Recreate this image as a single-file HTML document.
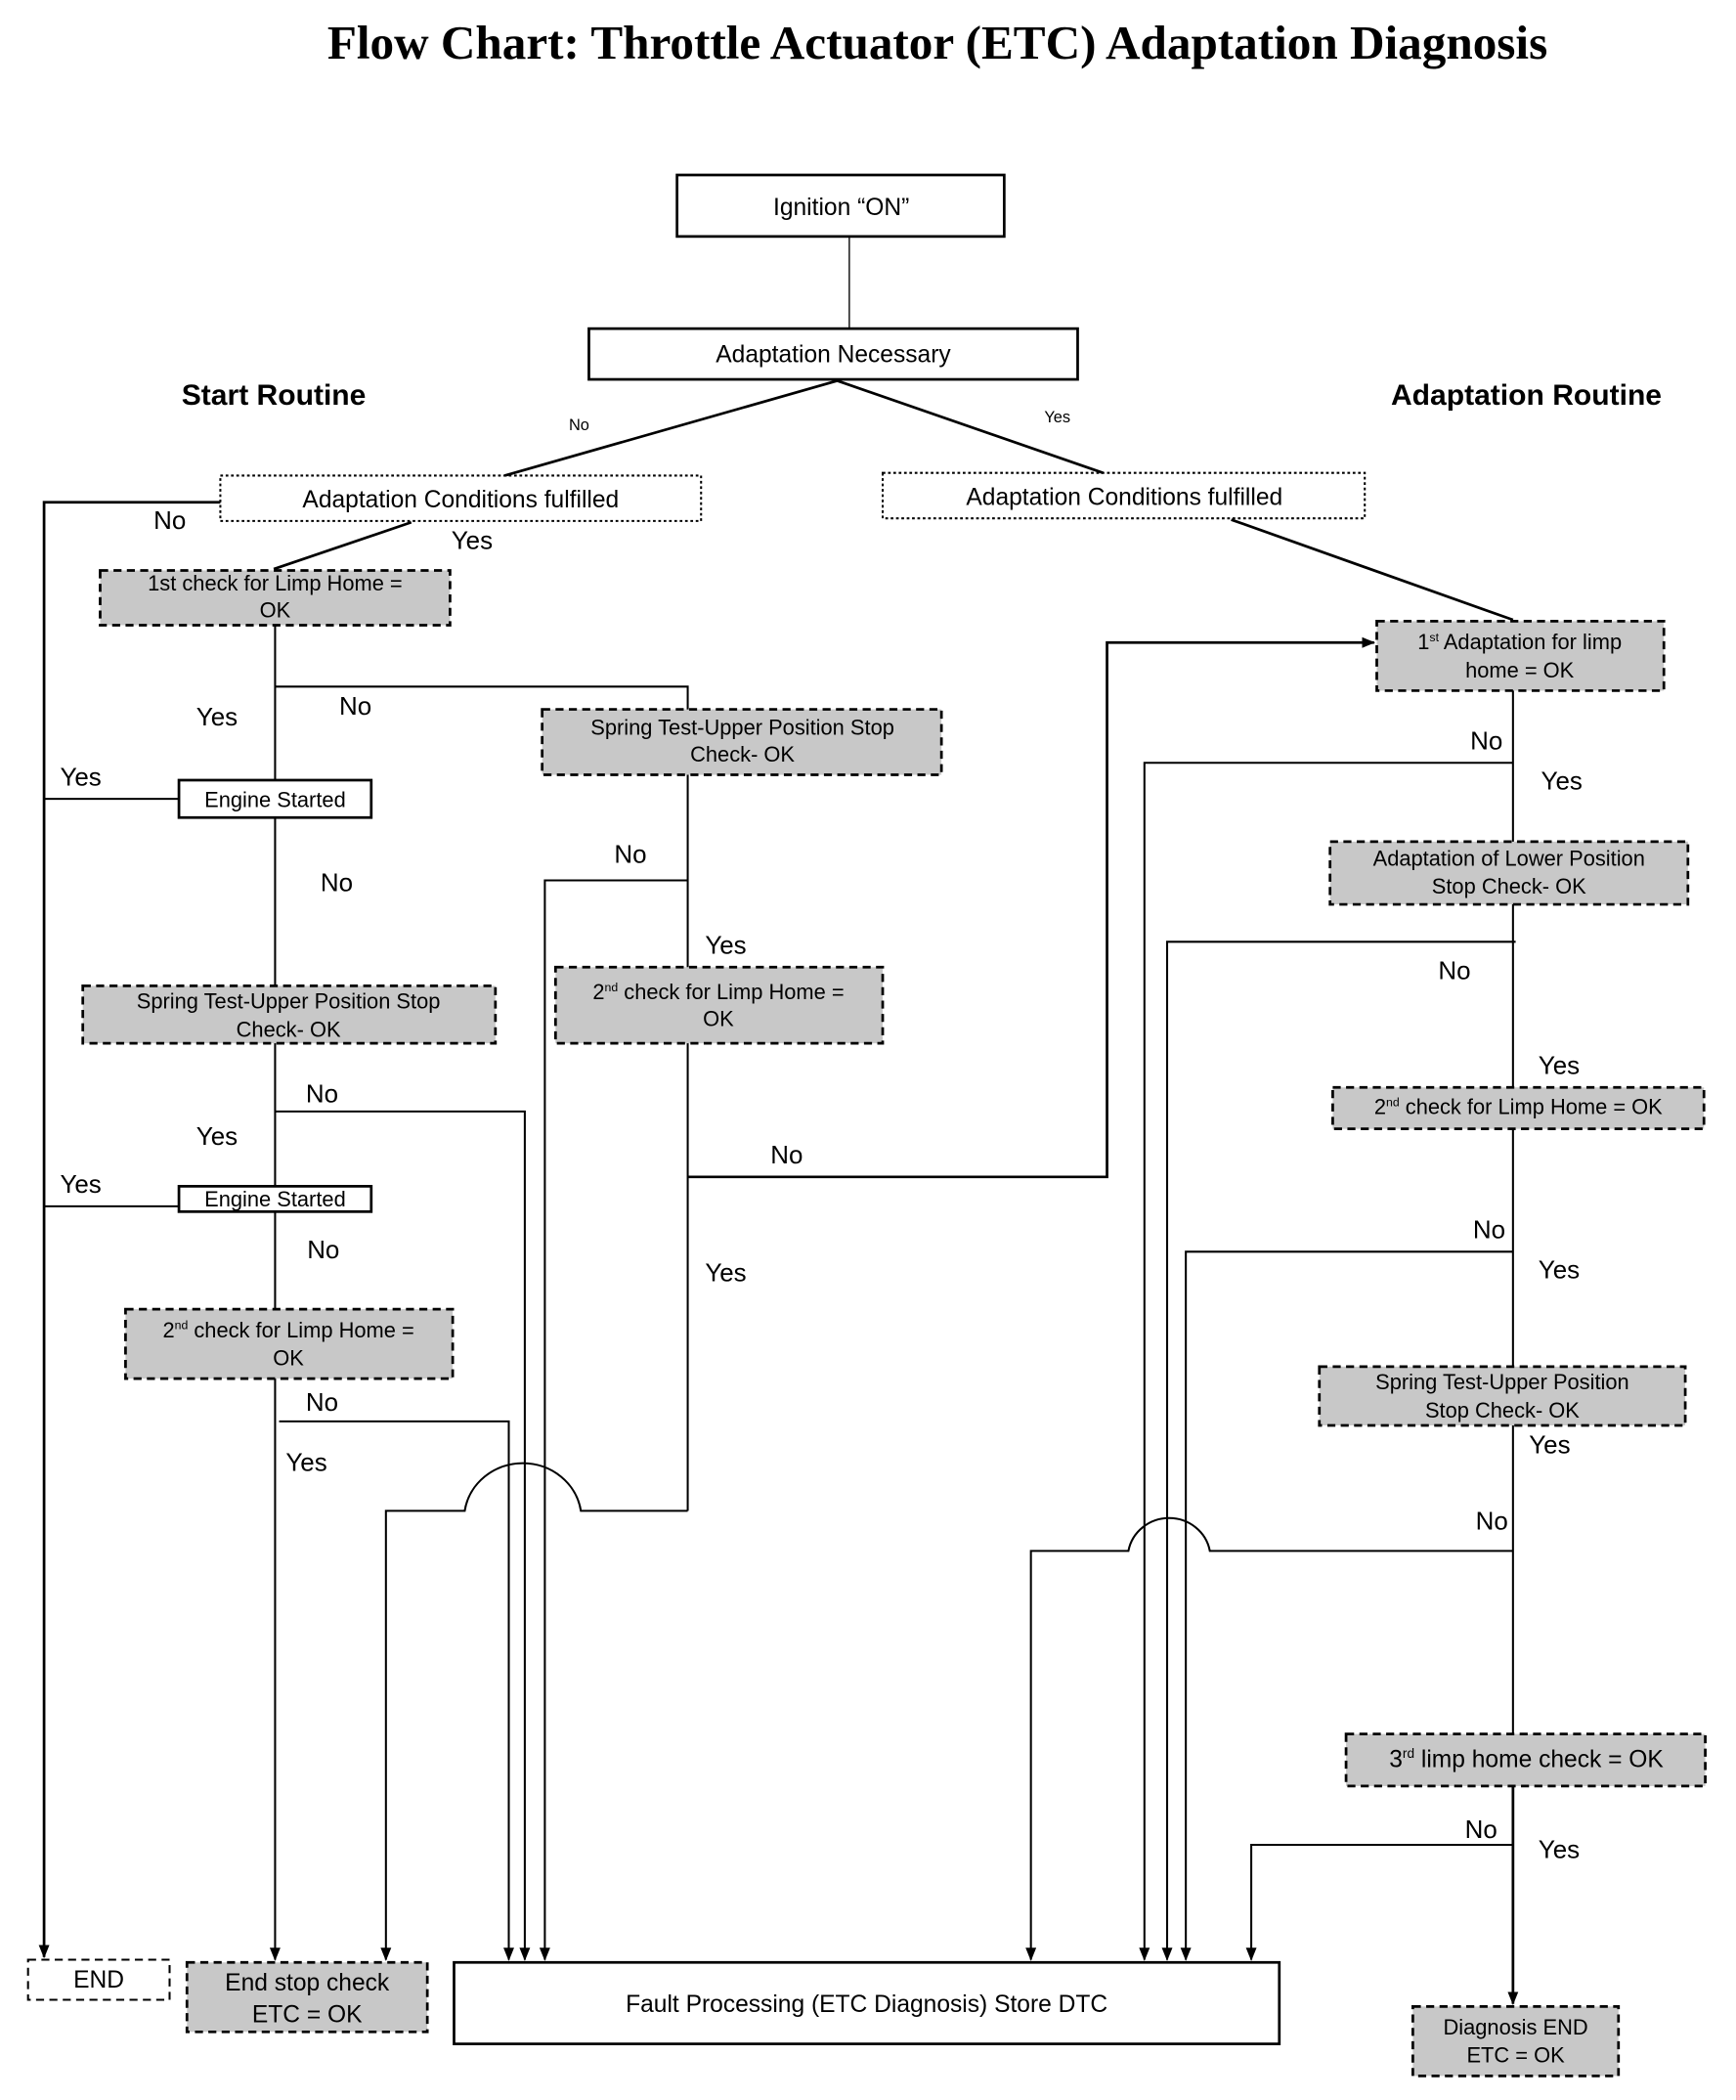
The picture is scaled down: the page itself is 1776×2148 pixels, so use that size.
<!DOCTYPE html>
<html><head><meta charset="utf-8"><style>
html,body{margin:0;padding:0;background:#fff;}
svg{display:block;}
text{font-family:"Liberation Sans",Arial,sans-serif;fill:#000;}
</style></head><body>
<svg width="1776" height="2148" viewBox="0 0 1300 1572" preserveAspectRatio="none" xmlns="http://www.w3.org/2000/svg">
<defs>
<marker id="a" markerWidth="10" markerHeight="10" refX="9" refY="5" orient="auto" markerUnits="userSpaceOnUse"><path d="M0,1 L10,5 L0,9 z" fill="#000"/></marker>
</defs>
<text x="702" y="44" text-anchor="middle" style="font-family:'Liberation Serif',serif;font-weight:bold;font-size:36px">Flow Chart: Throttle Actuator (ETC) Adaptation Diagnosis</text>
<text x="205" y="303" text-anchor="middle" font-weight="bold" font-size="22">Start Routine</text>
<text x="1143" y="303" text-anchor="middle" font-weight="bold" font-size="22">Adaptation Routine</text>

<g fill="none" stroke="#000">
<rect x="507" y="131" width="245" height="46" stroke-width="2"/>
<line x1="636" y1="177" x2="636" y2="246" stroke-width="1"/>
<rect x="441" y="246" width="366" height="38" stroke-width="2"/>
<polyline points="378,356 627,285 826,354" stroke-width="2"/>
<rect x="165" y="356" width="360" height="34" stroke-width="1.5" stroke-dasharray="2,2"/>
<rect x="661" y="354" width="361" height="34" stroke-width="1.5" stroke-dasharray="2,2"/>
<polyline points="165,376 33,376 33,1465" stroke-width="2" marker-end="url(#a)"/>
<line x1="308" y1="391" x2="205" y2="426" stroke-width="2"/>
<line x1="922" y1="389" x2="1133" y2="464" stroke-width="2"/>
</g>

<g fill="#c8c8c8" stroke="#000" stroke-width="2" stroke-dasharray="6,4">
<rect x="75" y="427" width="262" height="41"/>
<rect x="406" y="531" width="299" height="49"/>
<rect x="62" y="738" width="309" height="43"/>
<rect x="416" y="724" width="245" height="57"/>
<rect x="94" y="980" width="245" height="52"/>
<rect x="140" y="1469" width="180" height="52"/>
<rect x="1031" y="465" width="215" height="52"/>
<rect x="996" y="630" width="268" height="47"/>
<rect x="998" y="814" width="278" height="31"/>
<rect x="988" y="1023" width="274" height="44"/>
<rect x="1008" y="1298" width="269" height="39"/>
<rect x="1058" y="1502" width="154" height="52"/>
</g>
<g fill="#fff" stroke="#000">
<rect x="21" y="1467" width="106" height="30" stroke-width="1.5" stroke-dasharray="6,4"/>
<rect x="134" y="584" width="144" height="28" stroke-width="2"/>
<rect x="134" y="888" width="144" height="19" stroke-width="2"/>
<rect x="340" y="1469" width="618" height="61" stroke-width="2"/>
</g>

<g fill="none" stroke="#000" stroke-width="1.5">
<line x1="206" y1="468" x2="206" y2="584"/>
<polyline points="206,514 515,514 515,531"/>
<line x1="33" y1="598" x2="134" y2="598"/>
<line x1="206" y1="612" x2="206" y2="738"/>
<line x1="515" y1="580" x2="515" y2="724"/>
<polyline points="515,659 408,659 408,1467" marker-end="url(#a)"/>
<line x1="515" y1="781" x2="515" y2="1131"/>
<polyline points="515,881 829,881 829,481 1029,481" stroke-width="2" marker-end="url(#a)"/>
<line x1="206" y1="781" x2="206" y2="888"/>
<polyline points="206,832 393,832 393,1467" marker-end="url(#a)"/>
<line x1="33" y1="903" x2="134" y2="903"/>
<line x1="206" y1="907" x2="206" y2="980"/>
<line x1="206" y1="1032" x2="206" y2="1467" marker-end="url(#a)"/>
<polyline points="209,1064 381,1064 381,1467" marker-end="url(#a)"/>
<path d="M515,1131 L435,1131 A44,42 0 0 0 348,1131 L289,1131 L289,1467" marker-end="url(#a)"/>
<line x1="1133" y1="517" x2="1133" y2="630"/>
<polyline points="1133,571 857,571 857,1467" marker-end="url(#a)"/>
<line x1="1133" y1="677" x2="1133" y2="814"/>
<polyline points="1135,705 874,705 874,1467" marker-end="url(#a)"/>
<line x1="1133" y1="845" x2="1133" y2="1023"/>
<polyline points="1133,937 888,937 888,1467" marker-end="url(#a)"/>
<line x1="1133" y1="1067" x2="1133" y2="1298"/>
<path d="M1133,1161 L906,1161 A31,30 0 0 0 845,1161 L772,1161 L772,1467" marker-end="url(#a)"/>
<line x1="1133" y1="1337" x2="1133" y2="1500" stroke-width="2" marker-end="url(#a)"/>
<polyline points="1133,1381 937,1381 937,1467" marker-end="url(#a)"/>
</g>

<g font-size="18" text-anchor="middle">
<text x="630" y="161">Ignition “ON”</text>
<text x="624" y="271">Adaptation Necessary</text>
<text x="345" y="380">Adaptation Conditions  fulfilled</text>
<text x="842" y="378">Adaptation Conditions  fulfilled</text>
<text x="74" y="1488">END</text>
<text x="230" y="1490">End stop check</text>
<text x="230" y="1514">ETC = OK</text>
<text x="649" y="1506">Fault Processing  (ETC Diagnosis) Store DTC</text>
<text x="1143" y="1323">3<tspan font-size="10" dy="-7">rd</tspan><tspan dy="7"> limp home check = OK</tspan></text>
</g>
<g font-size="16" text-anchor="middle">
<text x="206" y="442">1st check for Limp Home =</text>
<text x="206" y="462">OK</text>
<text x="556" y="550">Spring Test-Upper Position Stop</text>
<text x="556" y="570">Check- OK</text>
<text x="206" y="604">Engine Started</text>
<text x="216" y="755">Spring Test-Upper Position Stop</text>
<text x="216" y="776">Check- OK</text>
<text x="538" y="748">2<tspan font-size="9" dy="-6">nd</tspan><tspan dy="6"> check for Limp Home =</tspan></text>
<text x="538" y="768">OK</text>
<text x="206" y="903">Engine Started</text>
<text x="216" y="1001">2<tspan font-size="9" dy="-6">nd</tspan><tspan dy="6"> check for Limp Home =</tspan></text>
<text x="216" y="1022">OK</text>
<text x="1138" y="486">1<tspan font-size="9" dy="-6">st</tspan><tspan dy="6"> Adaptation for limp</tspan></text>
<text x="1138" y="507">home = OK</text>
<text x="1130" y="648">Adaptation of Lower Position</text>
<text x="1130" y="669">Stop Check- OK</text>
<text x="1137" y="834">2<tspan font-size="9" dy="-6">nd</tspan><tspan dy="6"> check for Limp Home = OK</tspan></text>
<text x="1125" y="1040">Spring Test-Upper Position</text>
<text x="1125" y="1061">Stop Check- OK</text>
<text x="1135" y="1523">Diagnosis END</text>
<text x="1135" y="1544">ETC = OK</text>
</g>
<g font-size="19">
<text x="426" y="322" font-size="12">No</text>
<text x="782" y="316" font-size="12">Yes</text>
<text x="115" y="396">No</text>
<text x="338" y="411">Yes</text>
<text x="254" y="535">No</text>
<text x="147" y="543">Yes</text>
<text x="45" y="588">Yes</text>
<text x="240" y="667">No</text>
<text x="460" y="646">No</text>
<text x="528" y="714">Yes</text>
<text x="229" y="825">No</text>
<text x="147" y="857">Yes</text>
<text x="577" y="871">No</text>
<text x="45" y="893">Yes</text>
<text x="230" y="942">No</text>
<text x="528" y="959">Yes</text>
<text x="229" y="1056">No</text>
<text x="214" y="1101">Yes</text>
<text x="1101" y="561">No</text>
<text x="1154" y="591">Yes</text>
<text x="1077" y="733">No</text>
<text x="1152" y="804">Yes</text>
<text x="1103" y="927">No</text>
<text x="1152" y="957">Yes</text>
<text x="1145" y="1088">Yes</text>
<text x="1105" y="1145">No</text>
<text x="1097" y="1376">No</text>
<text x="1152" y="1391">Yes</text>
</g>
</svg>
</body></html>
